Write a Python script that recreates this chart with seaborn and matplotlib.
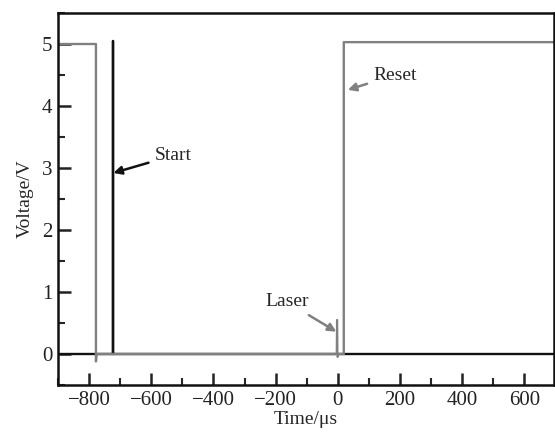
import matplotlib
matplotlib.use("Agg")
import matplotlib.pyplot as plt
import seaborn as sns
import pandas as pd
from matplotlib.ticker import MultipleLocator

# Reset / trigger trace (gray)
reset_t = [-900, -778, -778, -776, -770, -500, -200, 17, 19, 19, 695]
reset_v = [5.0, 5.0, -0.12, 0.0, 0.0, 0.0, 0.0, 0.0, 0.0, 5.03, 5.03]
# Laser pulse (gray, small spike)
laser_t = [-60, -4, -3, -2, -1, 2, 10]
laser_v = [0.0, 0.0, 0.55, 0.55, -0.05, 0.0, 0.0]
# Start pulse (black)
start_t = [-900, -722, -722, -722, -722, -400, 0, 300, 695]
start_v = [0.0, 0.0, 5.05, 5.05, 0.0, 0.0, 0.0, 0.0, 0.0]

sns.set_style("ticks")
plt.rcParams["font.family"] = ["Liberation Serif", "DejaVu Serif"]

fig = plt.figure(figsize=(5.55, 4.36), dpi=100)
ax = fig.add_axes([58/555, 1-385/436, (554-58)/555, (385-13)/436])

df_r = pd.DataFrame({"t": reset_t, "v": reset_v})
df_l = pd.DataFrame({"t": laser_t, "v": laser_v})
df_s = pd.DataFrame({"t": start_t, "v": start_v})

sns.lineplot(data=df_s, x="t", y="v", ax=ax, color="#111111", lw=1.7, sort=False, estimator=None)
sns.lineplot(data=df_r, x="t", y="v", ax=ax, color="#808080", lw=1.7, sort=False, estimator=None)
sns.lineplot(data=df_l, x="t", y="v", ax=ax, color="#808080", lw=1.4, sort=False, estimator=None)

ax.set_xlim(-900, 695)
ax.set_ylim(-0.5, 5.5)
ax.xaxis.set_major_locator(MultipleLocator(200))
ax.xaxis.set_minor_locator(MultipleLocator(100))
ax.yaxis.set_major_locator(MultipleLocator(1))
ax.yaxis.set_minor_locator(MultipleLocator(0.5))
ax.tick_params(which="major", direction="in", length=9, width=1.8, labelsize=15, colors="#222222", pad=4)
ax.tick_params(which="minor", direction="in", length=5, width=1.5)
ax.set_xticks([-800, -600, -400, -200, 0, 200, 400, 600])
ax.set_xticklabels(["\u2212800", "\u2212600", "\u2212400", "\u2212200", "0", "200", "400", "600"])
for s in ax.spines.values():
    s.set_linewidth(1.8)
    s.set_color("#111111")

ax.set_xlabel("Time/\u03bcs", fontsize=14, labelpad=1)
ax.set_ylabel("Voltage/V", fontsize=14, labelpad=6)

ax.annotate("Start", xy=(-722, 2.92), xytext=(-590, 3.2), fontsize=14,
            va="center", ha="left",
            arrowprops=dict(arrowstyle="-|>", color="#111111", lw=1.8, mutation_scale=12, shrinkA=2, shrinkB=0))
ax.annotate("Reset", xy=(32, 4.26), xytext=(113, 4.5), fontsize=14,
            va="center", ha="left",
            arrowprops=dict(arrowstyle="-|>", color="#808080", lw=1.8, mutation_scale=12, shrinkA=2, shrinkB=0))
ax.annotate("Laser", xy=(-5, 0.36), xytext=(-164, 0.84), fontsize=14,
            va="center", ha="center",
            arrowprops=dict(arrowstyle="-|>", color="#808080", lw=1.8, mutation_scale=12, shrinkA=2, shrinkB=0))

fig.savefig("out.png", dpi=100)
